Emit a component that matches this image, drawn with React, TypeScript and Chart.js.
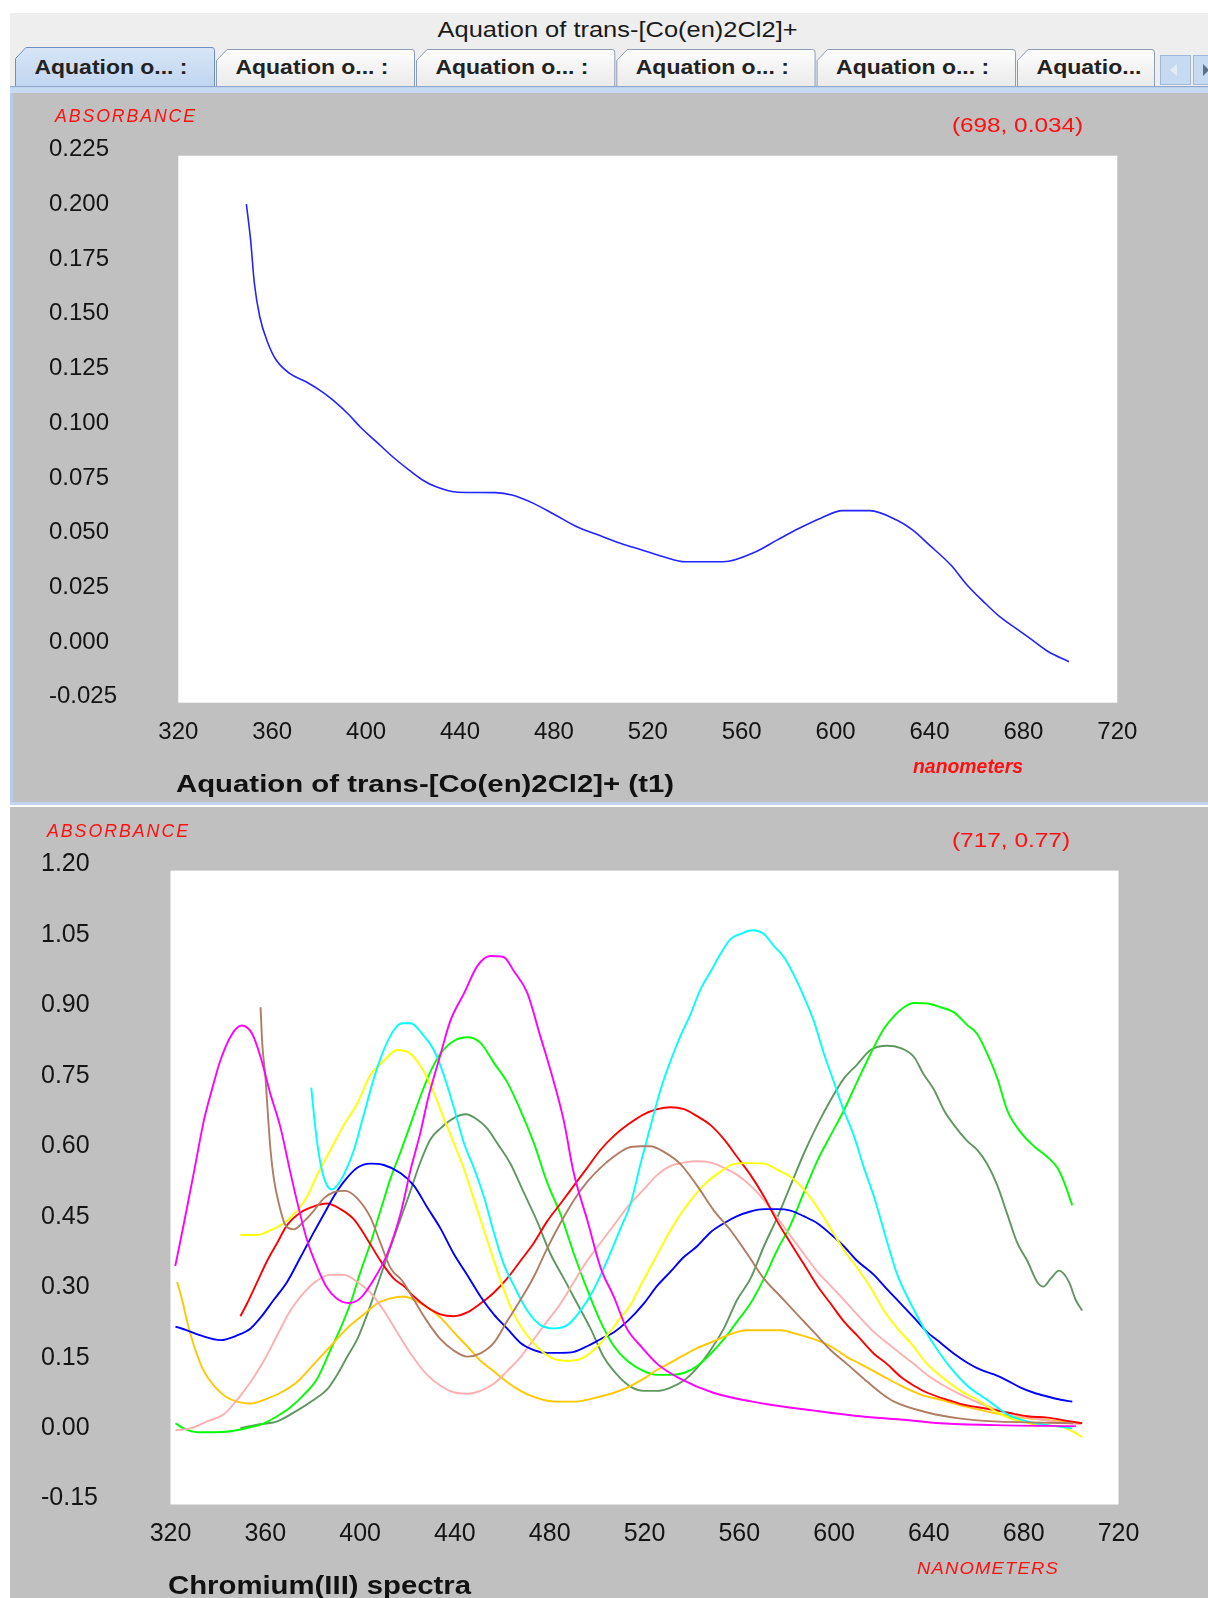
import React, { useEffect, useRef } from 'react';
import { Chart, registerables } from 'chart.js';

Chart.register(...registerables);

const FONT = '"Liberation Sans", Arial, Helvetica, sans-serif';

// ---------- texts ----------
const WINDOW_TITLE = 'Aquation of trans-[Co(en)2Cl2]+';
const TAB_LABELS = ['Aquation o... :', 'Aquation o... :', 'Aquation o... :', 'Aquation o... :', 'Aquation o... :', 'Aquatio...'];
const TOP_TITLE = 'Aquation of trans-[Co(en)2Cl2]+ (t1)';
const TOP_READOUT = '(698, 0.034)';
const TOP_XLABEL = 'nanometers';
const BOTTOM_TITLE = 'Chromium(III) spectra';
const BOTTOM_READOUT = '(717, 0.77)';
const BOTTOM_XLABEL = 'NANOMETERS';
const YLABEL = 'ABSORBANCE';

// ---------- tick values ----------
const NM_TICKS = [320, 360, 400, 440, 480, 520, 560, 600, 640, 680, 720];
const TOP_Y_TICKS = [-0.025, 0, 0.025, 0.05, 0.075, 0.1, 0.125, 0.15, 0.175, 0.2, 0.225];
const BOTTOM_Y_TICKS = [-0.15, 0, 0.15, 0.3, 0.45, 0.6, 0.75, 0.9, 1.05, 1.2];

// ---------- top chart: trans-[Co(en)2Cl2]+ (t1) ----------
const t1Nm = [349, 350.8, 352.4, 354.7, 358.2, 361.7, 367.4, 374.4, 381.3, 385.9, 392.8, 397.4, 404.3, 411.3, 418.2, 424, 429.8, 439, 455.2, 462.1, 471.3, 480.6, 489.8, 499, 508.3, 517.5, 526.7, 536, 552.1, 566, 575.2, 584.5, 593.7, 602.9, 614.5, 626, 632.9, 639.9, 649.1, 656, 663, 669.9, 676.8, 683.7, 690.7, 699.4];
const t1Abs = [0.2029, 0.1865, 0.1667, 0.1514, 0.1393, 0.1316, 0.1255, 0.1217, 0.1171, 0.1133, 0.1065, 0.1011, 0.0943, 0.0874, 0.0814, 0.0768, 0.0737, 0.0712, 0.071, 0.0699, 0.0661, 0.0608, 0.0554, 0.0516, 0.0479, 0.0448, 0.0417, 0.0394, 0.0394, 0.044, 0.0494, 0.0547, 0.0593, 0.0628, 0.0628, 0.0585, 0.0539, 0.0471, 0.0379, 0.0288, 0.0212, 0.0143, 0.009, 0.0037, -0.0017, -0.0063];

// ---------- bottom chart: Chromium(III) spectra ----------
const magentaNm = [322, 324, 327, 330.5, 334, 337.5, 341, 345.5, 350, 354.5, 358, 362, 366.5, 370.5, 374, 377.5, 382, 386, 390, 395, 400, 406, 411.5, 417, 421.5, 425.5, 428.5, 434, 438, 444, 449.5, 455, 460.5, 465, 470.5, 476, 480.5, 486, 490, 496, 501.5, 507, 512.5, 518.5, 525.5, 535, 549, 570, 591.5, 611, 628, 645, 667.5, 702];
const magentaAbs = [0.358, 0.407, 0.483, 0.574, 0.666, 0.734, 0.795, 0.848, 0.87, 0.852, 0.803, 0.727, 0.651, 0.559, 0.483, 0.415, 0.354, 0.312, 0.289, 0.279, 0.289, 0.331, 0.384, 0.468, 0.567, 0.643, 0.711, 0.81, 0.879, 0.94, 0.997, 1.018, 1.016, 0.985, 0.94, 0.848, 0.772, 0.666, 0.559, 0.453, 0.354, 0.293, 0.225, 0.187, 0.149, 0.118, 0.088, 0.065, 0.05, 0.038, 0.031, 0.023, 0.019, 0.017];

const brownNm = [358, 358.7, 360.1, 361.1, 362.2, 363.6, 365.7, 368.5, 372, 376.3, 380.5, 384.7, 388.9, 393.8, 398.8, 404.4, 408.6, 412.8, 418, 422.7, 428.3, 433.9, 439.5, 445.2, 450.8, 456.4, 462, 467.7, 473.3, 478.9, 484.6, 490.2, 495.8, 501.4, 507.1, 512.7, 518.3, 522.5, 528.2, 535.2, 542.2, 549.3, 556.3, 563.3, 570.4, 577.4, 584.4, 591.5, 598.5, 605.5, 612.5, 619.6, 625.3, 639.3, 653.4, 667.5, 681.5, 701];
const brownAbs = [0.909, 0.833, 0.757, 0.681, 0.605, 0.544, 0.491, 0.445, 0.436, 0.453, 0.476, 0.502, 0.515, 0.518, 0.502, 0.461, 0.407, 0.354, 0.325, 0.286, 0.24, 0.202, 0.178, 0.165, 0.172, 0.194, 0.24, 0.286, 0.335, 0.395, 0.45, 0.498, 0.537, 0.567, 0.591, 0.609, 0.613, 0.613, 0.601, 0.575, 0.529, 0.476, 0.434, 0.384, 0.331, 0.293, 0.255, 0.217, 0.179, 0.149, 0.118, 0.088, 0.069, 0.046, 0.033, 0.027, 0.025, 0.023];

const cyanNm = [379.4, 380.5, 381.9, 384, 386.1, 388.2, 390.3, 393.1, 397.4, 401.6, 405.8, 410, 414.2, 417.7, 421.3, 426.9, 431.1, 435.3, 439.5, 443.8, 448, 452.2, 456.4, 460.6, 464.9, 470.5, 476.1, 481.7, 487.4, 493, 498.6, 504.2, 509.9, 514.1, 518.3, 522.5, 526.8, 531, 535.2, 539.4, 543.6, 547.9, 552.1, 556.3, 560.5, 565.4, 570.4, 574.6, 578.8, 583, 587.2, 591.5, 595.7, 599.9, 604.1, 608.3, 612.6, 616.8, 622.5, 626.7, 632.3, 637.9, 643.6, 649.2, 656.2, 664.6, 673.1, 681.5, 690, 700.5];
const cyanAbs = [0.738, 0.681, 0.62, 0.559, 0.529, 0.521, 0.529, 0.552, 0.605, 0.681, 0.757, 0.818, 0.86, 0.875, 0.875, 0.848, 0.818, 0.765, 0.696, 0.62, 0.567, 0.506, 0.43, 0.362, 0.316, 0.263, 0.232, 0.225, 0.232, 0.263, 0.308, 0.369, 0.438, 0.49, 0.575, 0.655, 0.734, 0.795, 0.848, 0.894, 0.947, 0.985, 1.023, 1.054, 1.065, 1.073, 1.065, 1.039, 1.016, 0.978, 0.932, 0.879, 0.81, 0.75, 0.689, 0.636, 0.567, 0.506, 0.407, 0.339, 0.278, 0.225, 0.179, 0.141, 0.103, 0.073, 0.042, 0.027, 0.019, 0.012];

const yellowNm = [349.5, 356.6, 362.2, 367.8, 373.4, 377.7, 381.9, 387.5, 393.1, 398.8, 404.4, 410, 415.6, 421.3, 426.9, 431.1, 435.3, 439.5, 443.8, 448, 452.2, 456.4, 460.6, 464.9, 470.5, 476.1, 481.7, 487.4, 493, 498.6, 504.2, 509.9, 514.1, 518.3, 524, 529.6, 535.2, 540.8, 546.4, 552.1, 557.7, 563.3, 570.4, 576, 581.6, 587.2, 592.9, 598.5, 604.1, 609.7, 615.4, 621, 626.7, 632.3, 639.3, 646.4, 653.4, 660.4, 670.3, 678.7, 687.2, 695.6, 701.2, 704.7];
const yellowAbs = [0.424, 0.424, 0.434, 0.449, 0.476, 0.506, 0.552, 0.605, 0.658, 0.704, 0.765, 0.795, 0.818, 0.81, 0.772, 0.727, 0.673, 0.62, 0.565, 0.5, 0.435, 0.37, 0.308, 0.255, 0.21, 0.179, 0.16, 0.156, 0.16, 0.179, 0.21, 0.248, 0.275, 0.316, 0.369, 0.422, 0.468, 0.506, 0.537, 0.559, 0.575, 0.577, 0.576, 0.563, 0.548, 0.521, 0.483, 0.438, 0.392, 0.354, 0.312, 0.263, 0.225, 0.194, 0.149, 0.118, 0.092, 0.073, 0.042, 0.027, 0.019, 0.016, 0.004, -0.007];

const blueNm = [322.1, 327, 332.7, 341.1, 348.1, 353.8, 358, 363.6, 369.2, 374.9, 380.5, 384.7, 388.9, 393.1, 398.8, 404.4, 410, 417, 422.7, 428.3, 433.9, 439.5, 445.2, 450.8, 456.4, 462, 467.7, 473.3, 478.9, 484.6, 490.2, 495.8, 501.4, 507.1, 512.7, 519.7, 525.4, 531, 536.6, 542.2, 547.9, 553.5, 559.1, 564.7, 570.4, 576, 581.6, 587.2, 592.9, 598.5, 604.1, 609.7, 616.8, 622.4, 628.1, 633.7, 639.3, 645, 650.6, 656.2, 661.8, 667.5, 673.1, 678.7, 684.3, 690, 695.6, 700.5];
const blueAbs = [0.229, 0.221, 0.21, 0.2, 0.21, 0.225, 0.248, 0.286, 0.324, 0.377, 0.43, 0.468, 0.506, 0.537, 0.567, 0.576, 0.573, 0.556, 0.529, 0.483, 0.438, 0.384, 0.339, 0.293, 0.255, 0.225, 0.194, 0.179, 0.173, 0.173, 0.175, 0.187, 0.202, 0.217, 0.24, 0.278, 0.316, 0.346, 0.377, 0.4, 0.43, 0.449, 0.464, 0.474, 0.479, 0.479, 0.476, 0.464, 0.449, 0.426, 0.4, 0.369, 0.339, 0.308, 0.278, 0.248, 0.217, 0.194, 0.171, 0.152, 0.137, 0.127, 0.114, 0.099, 0.088, 0.08, 0.073, 0.069];

const redNm = [349.5, 352.3, 356.6, 360.8, 365, 369.2, 374.9, 380.5, 386.1, 391.7, 397.4, 403, 408.6, 414.2, 418.5, 422.7, 428.3, 433.9, 439.5, 445.2, 450.8, 456.4, 462, 467.7, 473.3, 478.9, 484.6, 490.2, 495.8, 501.4, 507.1, 512.7, 519.7, 525.4, 531, 536.6, 542.2, 547.9, 553.5, 559.1, 564.7, 570.4, 576, 581.6, 587.2, 592.9, 598.5, 604.1, 609.7, 616.8, 622.4, 628.1, 633.7, 639.3, 647.8, 656.2, 664.6, 673.1, 681.5, 690, 698.4, 704.7];
const redAbs = [0.251, 0.278, 0.324, 0.369, 0.407, 0.445, 0.472, 0.485, 0.491, 0.479, 0.457, 0.415, 0.369, 0.331, 0.315, 0.293, 0.27, 0.255, 0.251, 0.259, 0.278, 0.301, 0.331, 0.369, 0.407, 0.453, 0.491, 0.529, 0.567, 0.605, 0.635, 0.658, 0.681, 0.692, 0.696, 0.692, 0.677, 0.658, 0.628, 0.59, 0.552, 0.506, 0.453, 0.407, 0.362, 0.316, 0.278, 0.24, 0.21, 0.171, 0.149, 0.122, 0.103, 0.088, 0.073, 0.061, 0.054, 0.046, 0.038, 0.035, 0.028, 0.023];

const pinkNm = [322.1, 328.4, 335.5, 342.5, 348.1, 353.8, 359.4, 365, 370.6, 376.3, 381.9, 387.5, 393.1, 398.8, 404.4, 410, 415.6, 421.5, 428.3, 433.9, 439.5, 445.2, 450.8, 456.4, 462, 467.7, 473.3, 478.9, 484.6, 490.2, 495.8, 501.4, 507.1, 512.7, 519.7, 525.4, 531, 536.6, 542.2, 547.9, 553.5, 559.1, 564.7, 570.4, 576, 581.6, 587.2, 592.9, 598.5, 604.1, 609.7, 616.8, 622.4, 628.1, 633.7, 639.3, 646.4, 653.4, 661.8, 670.3, 678.7, 687.2, 695.6, 704];
const pinkAbs = [0.008, 0.012, 0.027, 0.042, 0.073, 0.111, 0.156, 0.21, 0.263, 0.301, 0.327, 0.339, 0.339, 0.324, 0.301, 0.263, 0.217, 0.17, 0.126, 0.103, 0.089, 0.086, 0.092, 0.107, 0.134, 0.164, 0.202, 0.24, 0.278, 0.324, 0.369, 0.407, 0.445, 0.483, 0.521, 0.552, 0.571, 0.578, 0.581, 0.578, 0.567, 0.552, 0.529, 0.498, 0.461, 0.422, 0.384, 0.346, 0.316, 0.286, 0.255, 0.217, 0.194, 0.171, 0.149, 0.126, 0.103, 0.084, 0.065, 0.05, 0.038, 0.031, 0.025, 0.021];

const orangeNm = [322.8, 324.9, 327, 330.5, 334.1, 338.3, 343.2, 348.1, 353.8, 359.4, 366.4, 373.4, 380.5, 387.5, 394.5, 401.6, 407.2, 412.8, 418.5, 422.7, 428.3, 433.9, 439.5, 445.2, 450.8, 456.4, 462, 467.7, 473.3, 478.9, 484.6, 490.2, 495.8, 501.4, 507.1, 512.7, 519.7, 525.4, 531, 536.6, 542.2, 549.3, 556.3, 563.3, 570.4, 577.4, 584.4, 591.5, 598.5, 605.5, 611.2, 619.6, 628.1, 636.5, 645, 653.4, 661.8, 670.3, 678.7, 687.2, 695.6, 704];
const orangeAbs = [0.324, 0.286, 0.24, 0.179, 0.134, 0.103, 0.08, 0.069, 0.065, 0.073, 0.088, 0.111, 0.149, 0.187, 0.225, 0.255, 0.278, 0.289, 0.293, 0.286, 0.27, 0.248, 0.217, 0.187, 0.156, 0.134, 0.111, 0.092, 0.079, 0.071, 0.069, 0.069, 0.073, 0.08, 0.088, 0.099, 0.118, 0.137, 0.152, 0.168, 0.183, 0.198, 0.213, 0.221, 0.221, 0.221, 0.213, 0.202, 0.187, 0.164, 0.149, 0.126, 0.103, 0.084, 0.073, 0.061, 0.051, 0.042, 0.035, 0.031, 0.027, 0.023];

const greenNm = [322.1, 325.6, 331.3, 338.3, 345.3, 352.3, 359.4, 365, 370.6, 376.3, 381.9, 387.5, 391.7, 395.9, 400.2, 404.4, 408.6, 412.8, 417, 421.3, 425.5, 429.7, 433.9, 439.5, 445.2, 450.8, 456.4, 462, 467.7, 473.3, 478.9, 484.6, 490.2, 495.8, 501.4, 507.1, 512.7, 519.7, 525.4, 531, 536.6, 542.2, 547.9, 553.5, 559.1, 564.7, 570.4, 576, 581.6, 587.2, 592.9, 598.5, 604.1, 609.7, 615.4, 621, 625.3, 629.5, 633.7, 639.3, 645, 650.6, 656.2, 660.4, 664.6, 668.9, 673.1, 678.7, 684.3, 690, 694.2, 697, 700.5];
const greenAbs = [0.023, 0.012, 0.004, 0.004, 0.006, 0.013, 0.023, 0.038, 0.057, 0.084, 0.118, 0.179, 0.225, 0.278, 0.346, 0.407, 0.476, 0.544, 0.6, 0.66, 0.72, 0.772, 0.81, 0.837, 0.845, 0.833, 0.791, 0.75, 0.689, 0.62, 0.536, 0.468, 0.384, 0.308, 0.24, 0.187, 0.156, 0.134, 0.126, 0.126, 0.13, 0.145, 0.171, 0.202, 0.24, 0.278, 0.331, 0.392, 0.445, 0.514, 0.582, 0.636, 0.689, 0.75, 0.81, 0.863, 0.89, 0.909, 0.918, 0.917, 0.909, 0.898, 0.871, 0.852, 0.81, 0.757, 0.689, 0.643, 0.613, 0.59, 0.567, 0.537, 0.487];

const darkGreenNm = [349.5, 356.6, 365, 373.4, 380.5, 386.1, 390.3, 394.5, 398.8, 403, 407.2, 411.4, 415.6, 419.9, 425.5, 429.7, 433.9, 439.5, 444.5, 449.4, 453.6, 457.8, 463.5, 469.1, 474.7, 480.3, 486, 491.6, 497.2, 502.8, 508.5, 514.1, 519.7, 525.4, 531, 536.6, 542.2, 547.9, 553.5, 559.1, 564.7, 570.4, 576, 581.6, 587.2, 592.9, 598.5, 604.1, 609.7, 615.4, 622.4, 628.1, 633.7, 637.9, 642.1, 646.4, 650.6, 656.2, 660.4, 664.6, 668.9, 673.1, 677.3, 681.5, 685.7, 688.3, 691.4, 694.9, 699.1, 701.9, 704.7];
const darkGreenAbs = [0.013, 0.02, 0.027, 0.05, 0.073, 0.095, 0.126, 0.164, 0.202, 0.255, 0.316, 0.377, 0.438, 0.498, 0.58, 0.628, 0.651, 0.673, 0.681, 0.67, 0.651, 0.62, 0.575, 0.514, 0.453, 0.384, 0.331, 0.278, 0.225, 0.164, 0.126, 0.101, 0.092, 0.092, 0.099, 0.114, 0.141, 0.179, 0.225, 0.286, 0.331, 0.4, 0.461, 0.529, 0.597, 0.658, 0.711, 0.757, 0.787, 0.818, 0.827, 0.822, 0.803, 0.765, 0.734, 0.689, 0.658, 0.624, 0.605, 0.575, 0.529, 0.468, 0.407, 0.369, 0.324, 0.314, 0.331, 0.348, 0.324, 0.286, 0.263];

const SERIES_COLORS = ['#ff00ff', '#b07c64', '#00ffff', '#ffff00', '#0000ff', '#ff0000', '#ffafaf', '#ffc800', '#00ff00', '#5f985f'];
const SERIES_NM = [magentaNm, brownNm, cyanNm, yellowNm, blueNm, redNm, pinkNm, orangeNm, greenNm, darkGreenNm];
const SERIES_ABS = [magentaAbs, brownAbs, cyanAbs, yellowAbs, blueAbs, redAbs, pinkAbs, orangeAbs, greenAbs, darkGreenAbs];

// ---------- helpers ----------
const toPoints = (xs: number[], ys: number[]) => xs.map((x, i) => ({ x, y: ys[i] }));

type TextItem = { text: string; x: number; y: number; w: number; font: string; color: string; spacing?: string };

function makeTextPlugin(items: TextItem[]) {
  return {
    id: 'panelText',
    beforeDraw(chart: any) {
      const { ctx, chartArea } = chart;
      ctx.save();
      ctx.fillStyle = '#ffffff';
      ctx.fillRect(chartArea.left, chartArea.top, chartArea.right - chartArea.left, chartArea.bottom - chartArea.top);
      ctx.restore();
    },
    afterDraw(chart: any) {
      const ctx = chart.ctx as CanvasRenderingContext2D;
      for (const it of items) {
        ctx.save();
        ctx.font = it.font;
        ctx.fillStyle = it.color;
        ctx.textBaseline = 'middle';
        ctx.textAlign = 'left';
        (ctx as any).letterSpacing = it.spacing || '0px';
        const w = ctx.measureText(it.text).width;
        ctx.translate(it.x, it.y);
        ctx.scale(it.w / w, 1);
        ctx.fillText(it.text, 0, 0);
        ctx.restore();
      }
    },
  };
}

function axisOptions(o: {
  yTicks: number[]; yMin: number; yMax: number; digits: number; fontSize: number;
  yWidth: number; xPad: number;
}) {
  return {
    x: {
      type: 'linear', min: 320, max: 720,
      grid: { display: false, drawTicks: false, tickLength: 0 },
      border: { display: false },
      afterBuildTicks: (s: any) => { s.ticks = NM_TICKS.map((v) => ({ value: v })); },
      afterFit: (s: any) => { s.height = 40; },
      ticks: {
        autoSkip: false, maxRotation: 0, minRotation: 0, padding: o.xPad, color: '#141414',
        font: { family: FONT, size: o.fontSize },
        callback: (v: any) => String(v),
      },
    },
    y: {
      type: 'linear', min: o.yMin, max: o.yMax,
      grid: { display: false, drawTicks: false, tickLength: 0 },
      border: { display: false },
      afterBuildTicks: (s: any) => { s.ticks = o.yTicks.map((v) => ({ value: v })); },
      afterFit: (s: any) => { s.width = o.yWidth; },
      ticks: {
        autoSkip: false, crossAlign: 'far', labelOffset: -6, padding: 0, color: '#141414',
        font: { family: FONT, size: o.fontSize },
        callback: (v: any) => (Math.abs(v) < 1e-9 ? 0 : Number(v)).toFixed(o.digits),
      },
    },
  };
}

function topConfig(): any {
  return {
    type: 'line',
    data: {
      datasets: [{
        data: toPoints(t1Nm, t1Abs), borderColor: '#2323ff', borderWidth: 1.6,
        pointRadius: 0, cubicInterpolationMode: 'monotone', fill: false,
      }],
    },
    options: {
      responsive: false, animation: false, devicePixelRatio: 1,
      layout: { padding: { left: 36, top: 62.7, right: 90.7, bottom: 59.3 } },
      plugins: { legend: { display: false }, tooltip: { enabled: false }, title: { display: false } },
      scales: axisOptions({ yTicks: TOP_Y_TICKS, yMin: -0.025, yMax: 0.225, digits: 3, fontSize: 24, yWidth: 129.3, xPad: 15 }),
    },
    plugins: [makeTextPlugin([
      { text: YLABEL, x: 42, y: 24, w: 142, font: `italic 18px ${FONT}`, color: '#ff1010', spacing: '2px' },
      { text: TOP_READOUT, x: 939, y: 33, w: 131, font: `21px ${FONT}`, color: '#ff1010' },
      { text: TOP_XLABEL, x: 900, y: 674.5, w: 110, font: `bold italic 20px ${FONT}`, color: '#ff1010' },
      { text: TOP_TITLE, x: 163, y: 692.3, w: 498, font: `bold 23px ${FONT}`, color: '#111111' },
    ])],
  };
}

function bottomConfig(): any {
  return {
    type: 'line',
    data: {
      datasets: SERIES_NM.map((nm, i) => ({
        data: toPoints(nm, SERIES_ABS[i]), borderColor: SERIES_COLORS[i], borderWidth: 1.9,
        pointRadius: 0, cubicInterpolationMode: 'monotone', fill: false,
      })),
    },
    options: {
      responsive: false, animation: false, devicePixelRatio: 1,
      layout: { padding: { left: 31, top: 63.6, right: 89.5, bottom: 53.5 } },
      plugins: { legend: { display: false }, tooltip: { enabled: false }, title: { display: false } },
      scales: axisOptions({ yTicks: BOTTOM_Y_TICKS, yMin: -0.15, yMax: 1.2, digits: 2, fontSize: 25, yWidth: 129.5, xPad: 15 }),
    },
    plugins: [makeTextPlugin([
      { text: YLABEL, x: 37, y: 25, w: 143, font: `italic 18px ${FONT}`, color: '#ff1010', spacing: '2px' },
      { text: BOTTOM_READOUT, x: 942, y: 34, w: 118, font: `21px ${FONT}`, color: '#ff1010' },
      { text: BOTTOM_XLABEL, x: 907, y: 763, w: 142, font: `italic 16px ${FONT}`, color: '#ff1010', spacing: '1px' },
      { text: BOTTOM_TITLE, x: 158, y: 780, w: 303, font: `bold 25px ${FONT}`, color: '#111111' },
    ])],
  };
}

function ChartCanvas({ build, width, height }: { build: () => any; width: number; height: number }) {
  const ref = useRef<HTMLCanvasElement>(null);
  useEffect(() => {
    const chart = new Chart(ref.current as HTMLCanvasElement, build());
    return () => chart.destroy();
  }, []);
  return <canvas ref={ref} width={width} height={height} style={{ display: 'block', width, height }} />;
}

function Header() {
  const edges = [15, 216, 416, 616.3, 816.6, 1017, 1156];
  const tab = (i: number) => {
    const x0 = edges[i];
    const x1 = edges[i + 1] - 1;
    const sel = i === 0;
    const top = sel ? 47.5 : 49.5;
    const d = `M${x0 + 0.5},86 V${top + 11} L${x0 + 11},${top} H${x1 - 3} Q${x1 - 0.5},${top} ${x1 - 0.5},${top + 3} V86`;
    return (
      <g key={i}>
        <path d={d} fill={sel ? 'url(#tabSel)' : 'url(#tabN)'} stroke={sel ? '#6f8fc2' : '#8d9db3'} strokeWidth={1} />
        <text x={x0 + 19.5} y={74} fontFamily={FONT} fontWeight="bold" fontSize={21} fill="#222"
          textLength={i === 5 ? 105 : 153} lengthAdjust="spacingAndGlyphs">{TAB_LABELS[i]}</text>
      </g>
    );
  };
  return (
    <svg width={1208} height={96} style={{ position: 'absolute', left: 0, top: 0 }}>
      <defs>
        <linearGradient id="tabN" x1="0" y1="0" x2="0" y2="1">
          <stop offset="0" stopColor="#fdfdfd" />
          <stop offset="1" stopColor="#ebebeb" />
        </linearGradient>
        <linearGradient id="tabSel" x1="0" y1="0" x2="0" y2="1">
          <stop offset="0" stopColor="#d8e6f7" />
          <stop offset="1" stopColor="#c0d6f0" />
        </linearGradient>
      </defs>
      <rect x={10} y={13} width={1198} height={83} fill="#eeeeee" />
      <text x={437.6} y={36.5} fontFamily={FONT} fontSize={22} fill="#1a1a1a" textLength={360} lengthAdjust="spacingAndGlyphs">{WINDOW_TITLE}</text>
      {[1, 2, 3, 4, 5].map(tab)}
      <rect x={10} y={86} width={1198} height={1.5} fill="#8ca7d0" />
      <rect x={10} y={87.5} width={1198} height={6} fill="#c6daf1" />
      {tab(0)}
      <rect x={1160.5} y={55.5} width={30} height={29} fill="#c6daf1" stroke="#9fb7d8" />
      <path d="M1170,70 L1177,64 L1177,76 Z" fill="#e4ecf6" />
      <rect x={1193.5} y={55.5} width={20} height={29} fill="#c6daf1" stroke="#9fb7d8" />
      <path d="M1203,64 L1209,70 L1203,76 Z" fill="#5d6f88" />
    </svg>
  );
}

export default function App() {
  useEffect(() => {
    document.body.style.margin = '0';
  }, []);
  return (
    <div style={{ position: 'relative', width: 1208, height: 1598, background: '#ffffff', overflow: 'hidden', fontFamily: FONT }}>
      <Header />
      <div style={{ position: 'absolute', left: 10, top: 93, width: 1198, height: 709, background: '#c0c0c0', borderLeft: '3px solid #b6cbe8', boxSizing: 'border-box' }}>
        <ChartCanvas build={topConfig} width={1195} height={709} />
      </div>
      <div style={{ position: 'absolute', left: 10, top: 802, width: 1198, height: 3, background: '#c1d5ee' }} />
      <div style={{ position: 'absolute', left: 10, top: 807, width: 1198, height: 791, background: '#c0c0c0' }}>
        <ChartCanvas build={bottomConfig} width={1198} height={791} />
      </div>
    </div>
  );
}
